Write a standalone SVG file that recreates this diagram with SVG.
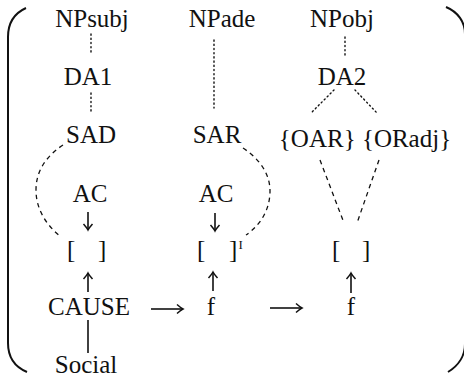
<svg xmlns="http://www.w3.org/2000/svg" width="464" height="378" viewBox="0 0 464 378" font-family="Liberation Serif, DejaVu Serif, serif">
<defs>
<style>
text{font-family:Liberation Serif, DejaVu Serif, serif;font-size:25px;fill:#111;}
.m{text-anchor:middle;}
.sup{font-size:13px;}
.ln{stroke:#111;stroke-width:1.6;fill:none;}
.dot{stroke:#111;stroke-width:1.4;fill:none;stroke-dasharray:1.2 3;stroke-linecap:round;}
.dash{stroke:#111;stroke-width:1.3;fill:none;stroke-dasharray:4.5 4;}
.par{stroke:#111;stroke-width:2;fill:none;}
</style>
<marker id="ah" markerUnits="userSpaceOnUse" markerWidth="10" markerHeight="12" viewBox="-8 -6 10 12" refX="0" refY="0" orient="auto">
<path d="M-6,-4.5 Q-2,-1 0,0 Q-2,1 -6,4.5" fill="none" stroke="#111" stroke-width="1.5"/>
</marker>
</defs>
<rect width="464" height="378" fill="#fff"/>
<g id="delimiters">
<path class="par" d="M26,8 C15,13 8,23 8,37 L8,343 C8,357 15,367 27,372"/>
<path class="par" d="M446,7 C458,12 465,22 465,34 L465,344 C465,356 458,366 448,372"/>
</g>
<g id="connectors">
<line class="dot" x1="91" y1="34" x2="91" y2="53"/>
<line class="dot" x1="91" y1="93" x2="91" y2="113"/>
<line class="dot" x1="214" y1="40" x2="214" y2="108"/>
<line class="dot" x1="345" y1="37" x2="345" y2="57"/>
<line class="dot" x1="334" y1="90" x2="312" y2="112"/>
<line class="dot" x1="355" y1="90" x2="377" y2="113"/>
<path class="dash" d="M63,145 C45,157 36,172 36,190 C36,208 45,224 61,237"/>
<path class="dash" d="M243,148 C261,160 270,175 270,191 C270,208 262,224 246,235"/>
<line class="dash" x1="320" y1="160" x2="344" y2="223"/>
<line class="dash" x1="379" y1="160" x2="357" y2="223"/>
<line class="ln" x1="88" y1="212" x2="88" y2="230" marker-end="url(#ah)"/>
<line class="ln" x1="215" y1="213" x2="215" y2="231" marker-end="url(#ah)"/>
<line class="ln" x1="88" y1="292" x2="88" y2="273" marker-end="url(#ah)"/>
<line class="ln" x1="213" y1="291" x2="213" y2="272" marker-end="url(#ah)"/>
<line class="ln" x1="351" y1="293" x2="351" y2="273" marker-end="url(#ah)"/>
<line class="ln" x1="151" y1="309" x2="183" y2="309" marker-end="url(#ah)"/>
<line class="ln" x1="270" y1="308" x2="302" y2="308" marker-end="url(#ah)"/>
<line class="ln" x1="88" y1="320" x2="88" y2="353"/>
</g>
<g id="NPsubj"><text class="m" x="92" y="27">NPsubj</text></g>
<g id="NPade"><text class="m" x="222" y="27">NPade</text></g>
<g id="NPobj"><text class="m" x="342" y="27">NPobj</text></g>
<g id="DA1"><text class="m" x="88" y="85">DA1</text></g>
<g id="DA2"><text class="m" x="342" y="85">DA2</text></g>
<g id="SAD"><text class="m" x="91" y="143">SAD</text></g>
<g id="SAR"><text class="m" x="217" y="143">SAR</text></g>
<g id="OAR-ORadj"><text class="m" x="365" y="147">{OAR} {ORadj}</text></g>
<g id="AC1"><text class="m" x="90" y="202">AC</text></g>
<g id="AC2"><text class="m" x="216" y="202">AC</text></g>
<g id="bracket1"><text x="67" y="258">[<tspan x="98">]</tspan></text></g>
<g id="bracket2"><text x="197" y="258">[<tspan x="229">]</tspan></text><text class="sup" x="238.5" y="249">I</text></g>
<g id="bracket3"><text x="332" y="258">[<tspan x="362">]</tspan></text></g>
<g id="CAUSE"><text class="m" x="89" y="315">CAUSE</text></g>
<g id="f1"><text class="m" x="211" y="315">f</text></g>
<g id="f2"><text class="m" x="351" y="315">f</text></g>
<g id="Social"><text class="m" x="86" y="373">Social</text></g>
</svg>
